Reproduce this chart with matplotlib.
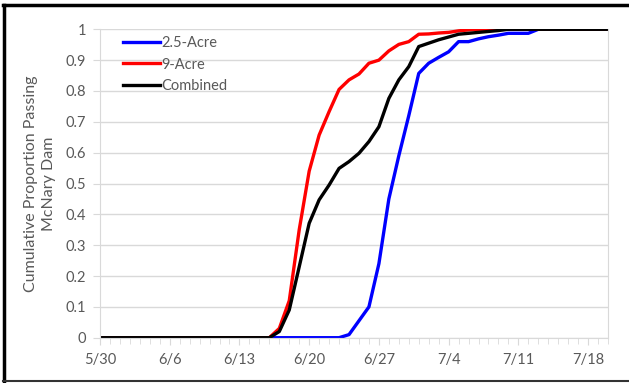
import matplotlib
matplotlib.use("Agg")
import matplotlib.pyplot as plt
from matplotlib.lines import Line2D
from matplotlib.ticker import MultipleLocator
import numpy as np

# days since 5/30
days = np.arange(0, 52)
tick_labels = ["5/30", "6/6", "6/13", "6/20", "6/27", "7/4", "7/11", "7/18"]

# values from day 17 (6/16) onward; earlier days are 0
acre25_tail = [0, 0, 0, 0, 0, 0, 0, 0, 0.01, 0.055, 0.10, 0.24, 0.45, 0.59, 0.72,
               0.857, 0.89, 0.909, 0.927, 0.96, 0.96, 0.969, 0.976, 0.981, 0.987,
               0.987, 0.987, 1.0]
acre9_tail = [0, 0.03, 0.12, 0.35, 0.54, 0.657, 0.733, 0.805, 0.836, 0.855, 0.89,
              0.90, 0.93, 0.951, 0.96, 0.984, 0.985, 0.988, 0.99, 0.995, 0.998, 1.0]
combined_tail = [0, 0.02, 0.09, 0.23, 0.371, 0.447, 0.495, 0.549, 0.571, 0.598,
                 0.636, 0.684, 0.776, 0.836, 0.879, 0.944, 0.955, 0.966, 0.975,
                 0.984, 0.987, 0.99, 0.993, 0.996, 1.0]

def full(tail):
    vals = [0.0] * 17 + list(tail)
    vals += [1.0] * (len(days) - len(vals))
    return np.array(vals)

acre25 = full(acre25_tail)
acre9 = full(acre9_tail)
combined = full(combined_tail)

plt.rcParams['font.family'] = ['Lato', 'DejaVu Sans']
gray = "#595959"

fig = plt.figure(figsize=(6.29, 3.83), dpi=100)
ax = fig.add_axes([100/629, 45.3/383, 508/629, 308.4/383])

ax.plot(days, acre25, color="#0000ff", lw=2.4, label="2.5-Acre")
ax.plot(days, acre9, color="#ff0000", lw=2.4, label="9-Acre")
ax.plot(days, combined, color="#000000", lw=2.4, label="Combined")

ax.set_xlim(0, 51)
ax.set_ylim(0, 1)
ax.set_xticks(np.arange(0, 50, 7))
ax.set_xticklabels(tick_labels)
ax.xaxis.set_minor_locator(MultipleLocator(1))
ax.set_yticks(np.arange(0, 1.01, 0.1))
ax.set_yticklabels(["0"] + ["%.1f" % v for v in np.arange(0.1, 0.95, 0.1)] + ["1"])
ax.grid(axis="y", color="#d9d9d9", lw=1)
ax.set_axisbelow(True)

for s in ["left", "bottom", "right"]:
    ax.spines[s].set_color("#d9d9d9")
ax.spines["top"].set_visible(False)
ax.tick_params(axis="both", which="both", direction="out", colors="#d9d9d9",
               labelcolor=gray, labelsize=10.5)
ax.tick_params(axis="x", which="major", length=5, pad=6)
ax.tick_params(axis="x", which="minor", length=4)
ax.tick_params(axis="y", length=5, pad=5)
ax.tick_params(axis="y", which="minor", left=False)

ax.set_ylabel("Cumulative Proportion Passing\nMcNary Dam", color=gray, fontsize=11.5,
              labelpad=7, linespacing=1.3)

leg = ax.legend(loc="upper left", bbox_to_anchor=(0.02, 1.02), frameon=False,
                handlelength=2.5, handletextpad=0.1, labelspacing=0.5,
                fontsize=10.5, labelcolor=gray)

# outer chart border
fig.add_artist(Line2D([0.004, 1.0], [1 - 5/383, 1 - 5/383], color="black", lw=2.5))
fig.add_artist(Line2D([4/629, 4/629], [2/383, 1 - 5/383], color="black", lw=2.5))
fig.add_artist(Line2D([0.004, 1.0], [2/383, 2/383], color="#333333", lw=1.5))

plt.savefig("out.png", dpi=100)
